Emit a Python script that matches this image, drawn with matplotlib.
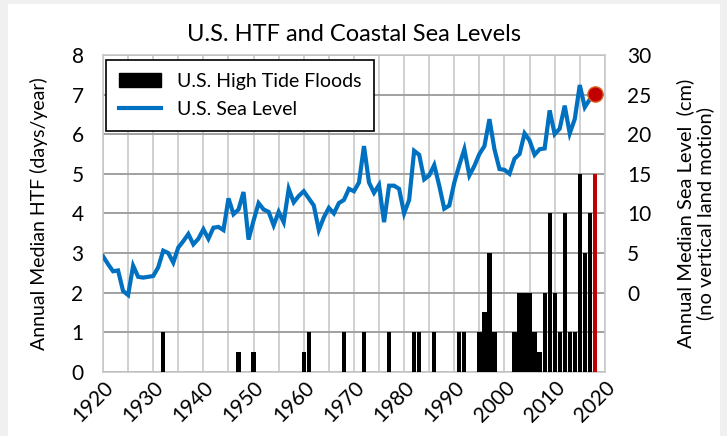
import matplotlib
matplotlib.use("Agg")
import matplotlib.pyplot as plt
from matplotlib.patches import Patch, Rectangle
from matplotlib.lines import Line2D

plt.rcParams['font.family'] = ['Lato', 'DejaVu Sans']

# High tide flood days (black bars), year -> days
htf_years = [1932, 1947, 1950, 1960, 1961, 1968, 1972, 1977, 1982, 1983, 1986,
             1991, 1992, 1995, 1996, 1997, 1998,
             2002, 2003, 2004, 2005, 2006, 2007, 2008, 2009, 2010, 2011, 2012,
             2013, 2014, 2015, 2016, 2017]
htf_days = [1, 0.5, 0.5, 0.5, 1, 1, 1, 1, 1, 1, 1,
            1, 1, 1, 1.5, 3, 1,
            1, 2, 2, 2, 1, 0.5, 2, 4, 2, 1, 4,
            1, 1, 5, 3, 4]
htf_2018_year = 2018
htf_2018_days = 5

# U.S. sea level (cm), 1920-2017
sl_years = list(range(1920, 2018))
sl_cm = [4.6, 3.6, 2.7, 2.8, 0.2, -0.3, 3.4, 2.0, 1.9, 2.0,
         2.1, 3.2, 5.3, 5.0, 3.8, 5.7, 6.5, 7.4, 6.1, 6.8,
         8.0, 6.8, 8.2, 8.3, 7.9, 11.9, 9.9, 10.5, 12.7, 6.7,
         9.1, 11.3, 10.5, 10.2, 8.5, 10.2, 8.9, 13.1, 11.4, 12.2,
         12.8, 11.9, 11.0, 7.9, 9.5, 10.7, 10.0, 11.3, 11.7, 13.1,
         12.8, 13.9, 18.5, 13.9, 12.6, 13.6, 8.9, 13.5, 13.5, 13.1,
         10.0, 11.7, 17.9, 17.4, 14.3, 14.8, 16.1, 13.5, 10.6, 11.0,
         13.9, 16.1, 18.1, 14.8, 16.0, 17.5, 18.5, 21.9, 18.1, 15.6,
         15.5, 15.0, 16.9, 17.5, 20.1, 19.2, 17.4, 18.1, 18.2, 23.0,
         20.0, 20.7, 23.6, 20.1, 21.9, 26.2, 23.4, 24.4]
dot_year = 2018
dot_cm = 25.1

fig = plt.figure(figsize=(7.27, 4.36), dpi=100, facecolor='#f0f0f0')
fig.patches.append(Rectangle((8 / 727, 0), 712 / 727, 432 / 436,
                             transform=fig.transFigure, facecolor='white',
                             edgecolor='none', zorder=-10))
ax = fig.add_axes([0.1417, 0.147, 0.6903, 0.727])
ax.set_facecolor('white')

ax.bar(htf_years, htf_days, width=0.85, color='black', zorder=3)
ax.bar([htf_2018_year], [htf_2018_days], width=0.85, color='#C00000', zorder=3)

ax.set_xlim(1920, 2020)
ax.set_ylim(0, 8)
ax.set_xticks(range(1920, 2021, 10))
ax.set_xticks(range(1920, 2021, 5), minor=True)
ax.set_yticks(range(0, 9))
ax.tick_params(axis='both', which='both', length=0, labelsize=15)
ax.tick_params(axis='y', pad=14)
ax.tick_params(axis='x', pad=4)
for lbl in ax.get_xticklabels():
    lbl.set_rotation(45)
    lbl.set_ha('right')
    lbl.set_rotation_mode('anchor')
ax.grid(True, axis='x', which='both', color='#c8c8c8', lw=1.2, zorder=0)
ax.grid(True, axis='y', which='major', color='#a0a0a0', lw=1.4, zorder=0)
ax.set_axisbelow(True)
for s in ax.spines.values():
    s.set_color('#c8c8c8')
    s.set_linewidth(1.2)
ax.set_ylabel('Annual Median HTF (days/year)', fontsize=14, labelpad=17)

ax2 = ax.twinx()
ax2.set_ylim(-10, 30)
ax2.set_yticks(range(0, 31, 5))
ax2.tick_params(axis='y', length=0, labelsize=15, pad=16)
for s in ax2.spines.values():
    s.set_visible(False)
ax2.plot(sl_years, sl_cm, color='#0070C0', lw=3, zorder=4, solid_joinstyle='miter')
ax2.plot([dot_year], [dot_cm], 'o', ms=11, color='#C00000', mec='#E06020', mew=1, zorder=5)
ax2.set_ylabel('Annual Median Sea Level  (cm)\n(no vertical land motion)',
               fontsize=14.5, labelpad=18, linespacing=1.15)

ax.set_title('U.S. HTF and Coastal Sea Levels', fontsize=17, pad=10)

handles = [Patch(facecolor='black', edgecolor='black'),
           Line2D([0], [0], color='#0070C0', lw=3)]
leg = ax.legend(handles, ['U.S. High Tide Floods', 'U.S. Sea Level'],
                loc='upper left', bbox_to_anchor=(3 / 502, 1 - 5 / 317),
                borderaxespad=0, fontsize=14,
                frameon=True, fancybox=False, edgecolor='black', framealpha=1,
                handlelength=2.2, borderpad=0.65, labelspacing=0.6)
leg.get_frame().set_linewidth(1.2)
leg.set_zorder(10)

fig.savefig('out.png', dpi=100, facecolor=fig.get_facecolor())
